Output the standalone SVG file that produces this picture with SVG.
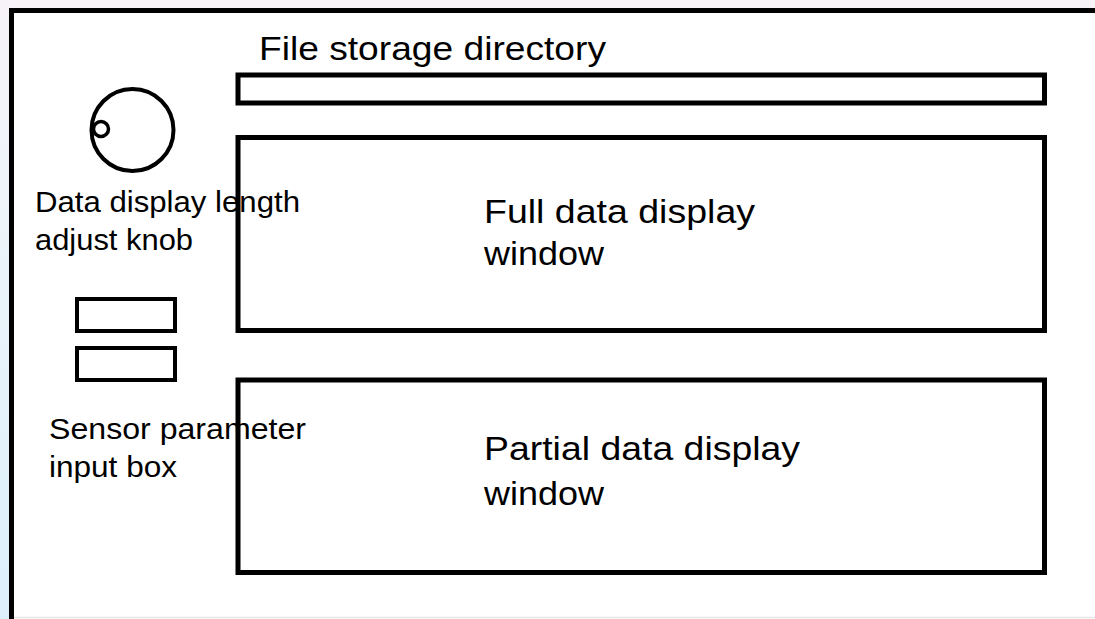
<svg xmlns="http://www.w3.org/2000/svg" width="1095" height="619" viewBox="0 0 1095 619">
<defs>
<linearGradient id="leftbg" x1="0" y1="0" x2="0" y2="1">
<stop offset="0" stop-color="#f7f3f8"/>
<stop offset="0.3" stop-color="#eef4fa"/>
<stop offset="1" stop-color="#dcf0fb"/>
</linearGradient>
<style>
.ln{fill:none;stroke:#000;stroke-width:5}
.thin{fill:none;stroke:#000;stroke-width:4}
.lbl{font-family:"Liberation Sans",Arial,sans-serif;font-size:29px;fill:#000}
.big{font-family:"Liberation Sans",Arial,sans-serif;font-size:34px;fill:#000}
</style>
</defs>
<rect x="0" y="0" width="1095" height="619" fill="#f7f3f7"/>
<rect x="0" y="0" width="11" height="619" fill="url(#leftbg)"/>
<rect x="11" y="10" width="1084" height="609" fill="#ffffff"/>
<g id="frame">
<path d="M11.5,619 V10.5 H1095" class="ln" stroke-width="4.5"/>
<line x1="14" y1="617.5" x2="1095" y2="617.5" stroke="#e6e6e6" stroke-width="1.5"/>
</g>
<g id="file-storage">
<text class="big" x="259" y="60" textLength="347" lengthAdjust="spacingAndGlyphs">File storage directory</text>
<rect x="238" y="75" width="806.5" height="28" class="ln"/>
</g>
<g id="full-window">
<rect x="238" y="137.5" width="806.5" height="193" class="ln"/>
<text class="big" x="484" y="223" textLength="271" lengthAdjust="spacingAndGlyphs">Full data display</text>
<text class="big" x="484" y="265" textLength="120" lengthAdjust="spacingAndGlyphs">window</text>
</g>
<g id="partial-window">
<rect x="238" y="380" width="806.5" height="192.5" class="ln"/>
<text class="big" x="484" y="460" textLength="316" lengthAdjust="spacingAndGlyphs">Partial data display</text>
<text class="big" x="484" y="505" textLength="120" lengthAdjust="spacingAndGlyphs">window</text>
</g>
<g id="knob">
<circle cx="132.5" cy="130" r="41" class="thin"/>
<circle cx="101" cy="129" r="7.5" fill="#fff" stroke="#000" stroke-width="3.5"/>
<text class="lbl" x="35" y="212" textLength="265" lengthAdjust="spacingAndGlyphs">Data display length</text>
<text class="lbl" x="35" y="250" textLength="158" lengthAdjust="spacingAndGlyphs">adjust knob</text>
</g>
<g id="sensor-input">
<rect x="77" y="299" width="98" height="32" class="thin"/>
<rect x="77" y="348" width="98" height="32" class="thin"/>
<text class="lbl" x="49" y="439" textLength="257" lengthAdjust="spacingAndGlyphs">Sensor parameter</text>
<text class="lbl" x="49" y="477" textLength="128" lengthAdjust="spacingAndGlyphs">input box</text>
</g>
<g id="connectors"></g>
</svg>
